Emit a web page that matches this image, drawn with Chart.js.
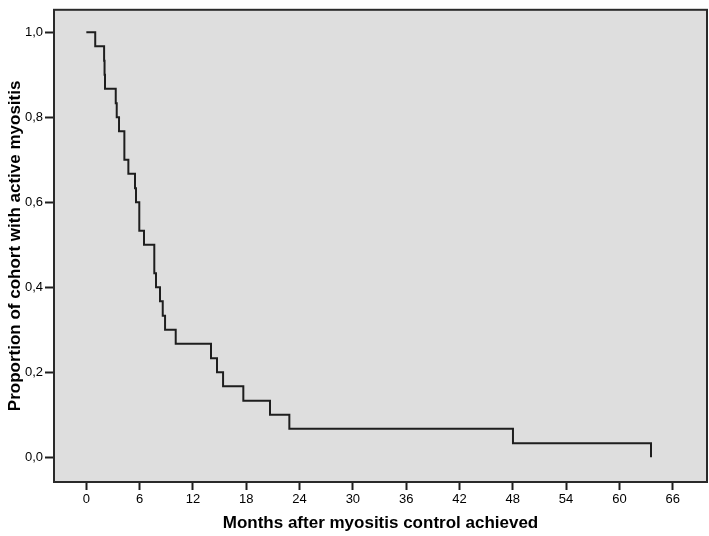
<!DOCTYPE html>
<html>
<head>
<meta charset="utf-8">
<title>Active myositis</title>
<script src="https://cdn.jsdelivr.net/npm/chart.js@4.4.1/dist/chart.umd.min.js"></script>
<style>
  html, body { margin: 0; padding: 0; background: #fff; }
  #wrap { width: 709px; height: 536px; }
</style>
</head>
<body>
<div id="wrap"><canvas id="km" width="709" height="536"></canvas></div>
<script>
// Kaplan-Meier curve (n = 30, steps of 1/30)
const months = [0, 1.0, 2.0, 2.05, 2.1, 3.31, 3.42, 3.68, 4.28, 4.28, 4.73, 5.48, 5.59, 5.96, 5.96,
                6.49, 7.65, 7.65, 7.84, 8.29, 8.6, 8.86, 10.06, 14.03, 14.71, 15.39, 17.67, 20.67,
                22.85, 48.02, 63.56];
const proportion = [1.0, 0.967, 0.933, 0.9, 0.867, 0.833, 0.8, 0.767, 0.733, 0.7, 0.667, 0.633, 0.6,
                    0.567, 0.533, 0.5, 0.467, 0.433, 0.4, 0.367, 0.333, 0.3, 0.267, 0.233, 0.2, 0.167,
                    0.133, 0.1, 0.067, 0.033, 0.0];
const xTicks = [0, 6, 12, 18, 24, 30, 36, 42, 48, 54, 60, 66];
const yTicks = [0, 0.2, 0.4, 0.6, 0.8, 1.0];

const fontFam = "'Liberation Sans', Arial, sans-serif";

let pts = [];
for (let i = 0; i < months.length; i++) {
    pts.push({x: months[i], y: proportion[i]});
}

// grey plot area + frame, like the SPSS output
const frame = {
    id: 'frame',
    beforeDraw(chart) {
        const a = chart.chartArea;
        const ctx = chart.ctx;
        ctx.save();
        ctx.fillStyle = '#dedede';
        ctx.fillRect(a.left, a.top, a.right - a.left, a.bottom - a.top);
        ctx.restore();
    },
    afterDraw(chart) {
        const a = chart.chartArea;
        const ctx = chart.ctx;
        ctx.save();
        ctx.strokeStyle = '#2a2a2a';
        ctx.lineWidth = 2;
        ctx.strokeRect(a.left, a.top, a.right - a.left, a.bottom - a.top);
        ctx.restore();
    }
};

new Chart(document.getElementById('km').getContext('2d'), {
    type: 'line',
    data: {
        datasets: [{
            label: 'Active myositis',
            data: pts,
            stepped: true,
            borderColor: '#1e1e1e',
            borderWidth: 2,
            pointRadius: 0,
            fill: false,
            tension: 0
        }]
    },
    options: {
        responsive: false,
        animation: false,
        layout: { padding: { top: 2, right: 2, left: 0, bottom: 0 } },
        plugins: { legend: { display: false }, tooltip: { enabled: false } },
        scales: {
            x: {
                type: 'linear',
                min: -3.64,
                max: 69.86,
                afterBuildTicks: (s) => { s.ticks = xTicks.map(v => ({value: v})); },
                afterFit: (s) => { s.height = 54; },
                border: { display: false },
                grid: { drawOnChartArea: false, drawTicks: true, tickLength: 8, tickColor: '#1e1e1e', tickWidth: 2 },
                ticks: { padding: 2, color: '#000', font: { family: fontFam, size: 13 }, maxRotation: 0 },
                title: {
                    display: true,
                    text: 'Months after myositis control achieved',
                    color: '#000',
                    font: { family: fontFam, size: 17, weight: 'bold' },
                    padding: { top: 0, bottom: 2 }
                }
            },
            y: {
                type: 'linear',
                min: -0.058,
                max: 1.053,
                afterBuildTicks: (s) => { s.ticks = yTicks.map(v => ({value: v})); },
                afterFit: (s) => { s.width = 54; },
                border: { display: false },
                grid: { drawOnChartArea: false, drawTicks: true, tickLength: 9, tickColor: '#1e1e1e', tickWidth: 2 },
                ticks: {
                    padding: 2,
                    color: '#000',
                    font: { family: fontFam, size: 13 },
                    callback: (v) => v.toFixed(1).replace('.', ',')
                },
                title: {
                    display: true,
                    text: 'Proportion of cohort with active myositis',
                    color: '#000',
                    font: { family: fontFam, size: 17, weight: 'bold' },
                    padding: { top: 5, bottom: 0 }
                }
            }
        }
    },
    plugins: [frame]
});
</script>
</body>
</html>
